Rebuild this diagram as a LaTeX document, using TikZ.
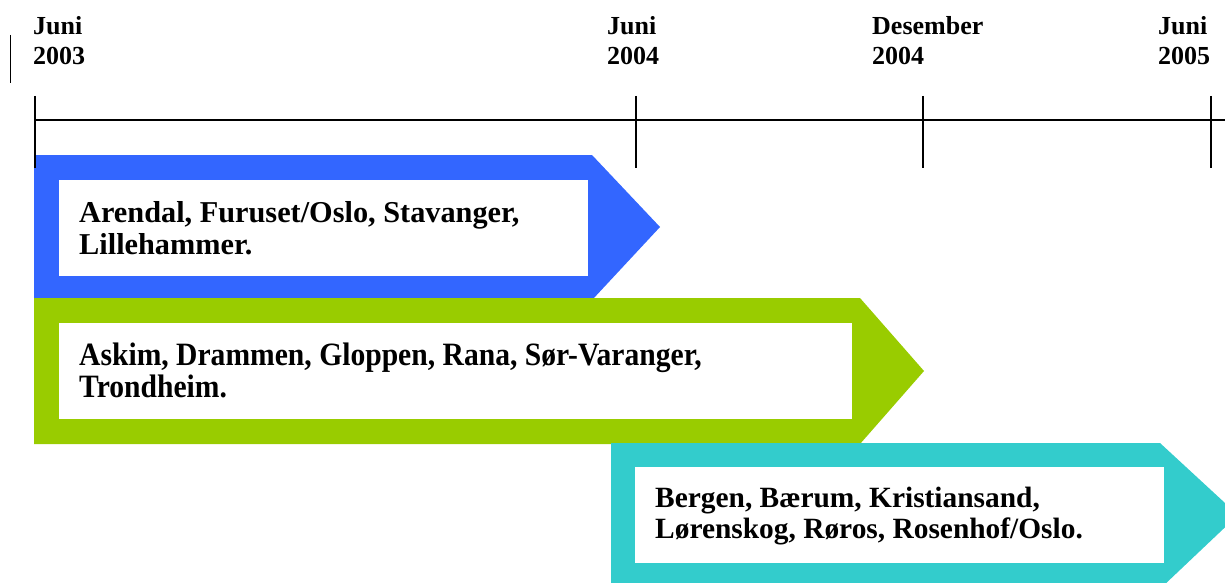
\documentclass[tikz,border=0pt]{standalone}
\usepackage{fontspec}
\setmainfont{Liberation Serif}
\usepackage{graphicx}
\definecolor{phaseblue}{HTML}{3366FF}
\definecolor{phasegreen}{HTML}{99CC00}
\definecolor{phaseteal}{HTML}{33CCCC}
\tikzset{
  datelbl/.style={anchor=base west, inner sep=0pt, font=\fontsize{26}{30}\selectfont\bfseries},
  citylbl/.style={anchor=base west, inner sep=0pt, font=\fontsize{#1}{32}\selectfont\bfseries},
  citylbl/.default=30,
  tick/.style={line width=1.6pt, black},
  inner/.style={fill=white, draw=none}
}
\begin{document}
\begin{tikzpicture}[x=1pt,y=-1pt]
\useasboundingbox (0,0) rectangle (1225,583);

% date headings
\node[datelbl] (d1a) at (33,35) {Juni};
\node[datelbl] (d1b) at (33,65) {2003};
\node[datelbl] (d2a) at (607,35) {Juni};
\node[datelbl] (d2b) at (607,65) {2004};
\node[datelbl] (d3a) at (872,35) {Desember};
\node[datelbl] (d3b) at (872,65) {2004};
\node[datelbl] (d4a) at (1158,35) {Juni};
\node[datelbl] (d4b) at (1158,65) {2005};

% small marker at the left
\draw[line width=0.8pt] (10,35) -- (10,83);

% phase arrows
\fill[phaseblue] (34,155) -- (592,155) -- (660,227) -- (593,299) -- (34,299) -- cycle;
\fill[inner] (59,180) rectangle (588,276);

\fill[phasegreen] (34,298) -- (860,298) -- (924,371) -- (860,444) -- (34,444) -- cycle;
\fill[inner] (59,323) rectangle (852,419);

\fill[phaseteal] (611,443) -- (1160,443) -- (1238,515) -- (1162,587) -- (611,587) -- cycle;
\fill[inner] (635,467) rectangle (1164,563);

% time axis
\coordinate (axisL) at (35,120);
\coordinate (axisR) at (1225,120);
\draw[tick] (axisL) -- (axisR);
\foreach \x in {35,636,923,1211}
  \draw[tick] (\x,96) -- (\x,168);

% phase contents
\node[citylbl=30.3] (b1) at (79,222) {Arendal, Furuset/Oslo, Stavanger,};
\node[citylbl=30.3] (b2) at (79,254) {Lillehammer.};
\node[citylbl=29.6] (g1) at (79,365) {\scalebox{1}[1.1]{Askim, Drammen, Gloppen, Rana, Sør-Varanger,}};
\node[citylbl=29.6] (g2) at (79,397) {\scalebox{1}[1.1]{Trondheim.}};
\node[citylbl=29.4] (t1) at (655,507) {Bergen, Bærum, Kristiansand,};
\node[citylbl=29.4] (t2) at (655,538) {Lørenskog, Røros, Rosenhof/Oslo.};
\end{tikzpicture}
\end{document}
